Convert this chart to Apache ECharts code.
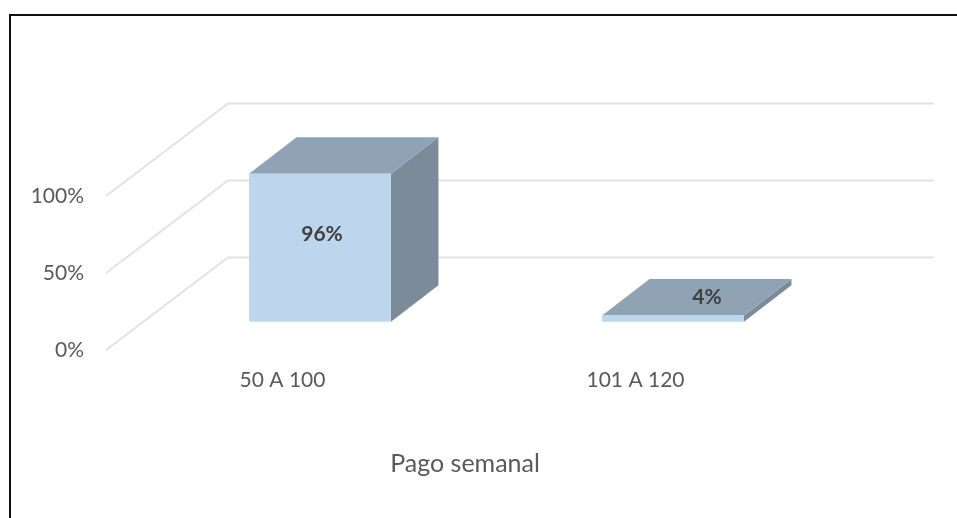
<!DOCTYPE html>
<html>
<head>
<meta charset="utf-8">
<style>
  html, body { margin: 0; padding: 0; background: #fff; }
  #chart { width: 957px; height: 518px; }
</style>
<script src="https://cdn.jsdelivr.net/npm/echarts@6/dist/echarts.min.js"></script>
</head>
<body>
<div id="chart"></div>
<script>
// datos
const categories = ['50 A 100', '101 A 120'];
const values = [96, 4];
const yTicks = [0, 50, 100];
const axisTitle = 'Pago semanal';

// perspectiva del grafico 3D (px)
const wallDepth = [122, -92.5];
const barOffset = [37.5, -28.3];
const barDepth = [47.5, -36.5];
const barRatio = 0.402;
// desplazamiento de cada etiqueta respecto al centro del frente de la barra
const labelShift = [[2, -14], [34, -21]];

const fontFamily = 'Lato, "Open Sans", sans-serif';

const chart = echarts.init(document.getElementById('chart'));

function renderGridLine(params, api) {
  const cs = params.coordSys;
  const y = api.coord([0, api.value(1)])[1];
  return {
    type: 'polyline',
    shape: {
      points: [
        [cs.x, y],
        [cs.x + wallDepth[0], y + wallDepth[1]],
        [cs.x + cs.width + wallDepth[0], y + wallDepth[1]]
      ]
    },
    style: { stroke: '#E2E2E2', lineWidth: 2, fill: null }
  };
}

function renderBar(params, api) {
  const base = api.coord([api.value(0), 0]);
  const top = api.coord([api.value(0), api.value(1)]);
  const w = api.size([1, 0])[0] * barRatio;
  const cx = base[0] + barOffset[0];
  const x0 = cx - w / 2;
  const x1 = cx + w / 2;
  const yb = base[1] + barOffset[1];
  const yt = top[1] + barOffset[1];
  const dx = barDepth[0];
  const dy = barDepth[1];
  const shift = labelShift[params.dataIndex];
  return {
    type: 'group',
    children: [
      {
        type: 'polygon',
        shape: { points: [[x1, yb], [x1 + dx, yb + dy], [x1 + dx, yt + dy], [x1, yt]] },
        style: { fill: '#7B8B9A' }
      },
      {
        type: 'polygon',
        shape: { points: [[x0, yt], [x1, yt], [x1 + dx, yt + dy], [x0 + dx, yt + dy]] },
        style: { fill: '#8FA3B5' }
      },
      {
        type: 'rect',
        shape: { x: x0, y: yt, width: w, height: yb - yt },
        style: { fill: '#BDD6EE' }
      },
      {
        type: 'text',
        x: cx + shift[0],
        y: (yb + yt) / 2 + shift[1],
        style: {
          text: api.value(1) + '%',
          fill: '#404040',
          font: 'bold 21px ' + fontFamily,
          align: 'center',
          verticalAlign: 'middle'
        }
      }
    ]
  };
}

chart.setOption({
  animation: false,
  tooltip: { show: false },
  title: {
    text: axisTitle,
    left: 460,
    top: 446,
    textAlign: 'center',
    textStyle: { color: '#595959', fontSize: 25, fontWeight: 'normal', fontFamily: fontFamily }
  },
  // marco negro del documento original
  graphic: [
    {
      type: 'polyline',
      silent: true,
      shape: { points: [[10, 518], [10, 15], [957, 15]] },
      style: { stroke: '#111', lineWidth: 2, fill: null }
    }
  ],
  grid: { left: 106, top: 196, width: 706, height: 154 },
  xAxis: {
    type: 'category',
    data: categories,
    axisLine: { show: false },
    axisTick: { show: false },
    axisLabel: { color: '#595959', fontSize: 21, fontFamily: fontFamily, margin: 20 }
  },
  yAxis: {
    type: 'value',
    min: 0,
    max: 100,
    interval: 50,
    axisLine: { show: false },
    axisTick: { show: false },
    splitLine: { show: false },
    axisLabel: {
      color: '#595959',
      fontSize: 21,
      fontFamily: fontFamily,
      margin: 22,
      padding: [4, 0, 0, 0],
      formatter: '{value}%'
    }
  },
  series: [
    {
      type: 'custom',
      clip: false,
      silent: true,
      renderItem: renderGridLine,
      data: yTicks.map(t => [0, t]),
      z: 1
    },
    {
      type: 'custom',
      clip: false,
      silent: true,
      renderItem: renderBar,
      data: values.map((v, i) => [i, v]),
      z: 2
    }
  ]
});
</script>
</body>
</html>
